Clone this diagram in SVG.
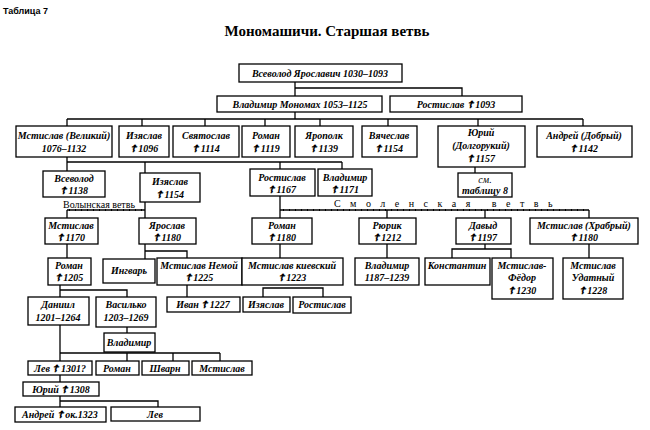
<svg xmlns="http://www.w3.org/2000/svg" width="650" height="430" viewBox="0 0 650 430">
<style>
.b{fill:#fff;stroke:#000;stroke-width:1.3}
text{font-family:"Liberation Serif","DejaVu Serif",serif;font-size:10px;font-style:italic;font-weight:bold;text-anchor:middle;fill:#000}
.c line,.c polyline{stroke:#000;stroke-width:1.3;fill:none}
.t{stroke:#000;stroke-width:3;stroke-dasharray:1 5;fill:none}
.u{font-style:normal;font-weight:normal;font-size:10px}
</style>
<rect width="650" height="430" fill="#fff"/>
<text x="3" y="14" style="text-anchor:start;font-style:normal;font-family:'Liberation Sans',sans-serif;font-size:9px">Таблица 7</text>
<text x="327" y="36" style="font-style:normal;font-size:15px">Мономашичи. Старшая ветвь</text>
<g class="c">
<polyline points="295,82 295,96"/><polyline points="295,88 462,88 462,96"/>
<polyline points="295,112 295,119"/>
<line x1="67" y1="119" x2="583" y2="119"/>
<line x1="67" y1="119" x2="67" y2="126"/><line x1="142" y1="119" x2="142" y2="126"/><line x1="205" y1="119" x2="205" y2="126"/><line x1="265" y1="119" x2="265" y2="126"/><line x1="320" y1="119" x2="320" y2="126"/><line x1="388" y1="119" x2="388" y2="126"/><line x1="478" y1="119" x2="478" y2="126"/><line x1="583" y1="119" x2="583" y2="126"/>
<line x1="67" y1="157" x2="67" y2="171"/><line x1="67" y1="162" x2="342" y2="162"/>
<line x1="145" y1="162" x2="145" y2="173"/><line x1="280" y1="162" x2="280" y2="169"/><line x1="342" y1="162" x2="342" y2="169"/>
<line x1="475" y1="167" x2="475" y2="173"/>
<line x1="67" y1="210" x2="145" y2="210"/><line class="t" x1="69" y1="210" x2="145" y2="210" style="stroke-width:2"/>
<line x1="67" y1="210" x2="67" y2="218"/><line x1="145" y1="202" x2="145" y2="218"/>
<line x1="280" y1="196" x2="280" y2="218"/>
<line x1="280" y1="210" x2="589" y2="210"/><line class="t" x1="283" y1="210" x2="589" y2="210" style="stroke-width:2"/>
<line x1="387" y1="210" x2="387" y2="218"/><line x1="485" y1="210" x2="485" y2="218"/><line x1="589" y1="210" x2="589" y2="218"/>
<line x1="67" y1="244" x2="67" y2="258"/>
<line x1="145" y1="244" x2="145" y2="259"/><polyline points="145,251 187,251 187,258"/>
<line x1="187" y1="285" x2="187" y2="297"/>
<line x1="280" y1="244" x2="280" y2="258"/>
<polyline points="263,297 263,288 323,288 323,297"/>
<line x1="387" y1="244" x2="387" y2="258"/>
<line x1="485" y1="244" x2="485" y2="249"/><polyline points="452,258 452,249 511,249 511,258"/>
<line x1="589" y1="244" x2="589" y2="258"/>
<line x1="60" y1="285" x2="60" y2="297"/><polyline points="60,290 127,290 127,297"/>
<line x1="127" y1="327" x2="127" y2="333"/>
<line x1="60" y1="325" x2="60" y2="361"/><line x1="60" y1="353" x2="220" y2="353"/>
<line x1="127" y1="353" x2="127" y2="361"/><line x1="173" y1="353" x2="173" y2="361"/><line x1="220" y1="353" x2="220" y2="361"/>
<line x1="60" y1="375" x2="60" y2="407"/><polyline points="60,401 158,401 158,407"/>
</g>
<text class="u" x="99" y="208">Волынская ветвь</text>
<text class="u" x="448" y="207" style="letter-spacing:9.5px">Смоленская ветвь</text>
<g id="n1"><rect class="b" x="239" y="64" width="163" height="18"/><text x="320" y="77">Всеволод Ярославич 1030–1093</text></g>
<g id="n2"><rect class="b" x="217" y="96" width="165" height="16"/><text x="300" y="108">Владимир Мономах 1053–1125</text></g>
<g id="n3"><rect class="b" x="390" y="96" width="132" height="16"/><text x="456" y="108">Ростислав ☦ 1093</text></g>
<g id="n4"><rect class="b" x="16" y="126" width="96" height="31"/><text x="64" y="139">Мстислав (Великий)</text><text x="64" y="152">1076–1132</text></g>
<g id="n5"><rect class="b" x="119" y="126" width="50" height="31"/><text x="144" y="139">Изяслав</text><text x="144" y="152">☦ 1096</text></g>
<g id="n6"><rect class="b" x="173" y="126" width="66" height="31"/><text x="206" y="139">Святослав</text><text x="206" y="152">☦ 1114</text></g>
<g id="n7"><rect class="b" x="242" y="126" width="48" height="31"/><text x="266" y="139">Роман</text><text x="266" y="152">☦ 1119</text></g>
<g id="n8"><rect class="b" x="295" y="126" width="58" height="31"/><text x="324" y="139">Ярополк</text><text x="324" y="152">☦ 1139</text></g>
<g id="n9"><rect class="b" x="362" y="126" width="55" height="31"/><text x="389" y="139">Вячеслав</text><text x="389" y="152">☦ 1154</text></g>
<g id="n10"><rect class="b" x="438" y="126" width="87" height="41"/><text x="481" y="136">Юрий</text><text x="481" y="149">(Долгорукий)</text><text x="481" y="162">☦ 1157</text></g>
<g id="n11"><rect class="b" x="537" y="126" width="95" height="31"/><text x="584" y="139">Андрей (Добрый)</text><text x="584" y="152">☦ 1142</text></g>
<g id="n12"><rect class="b" x="43" y="171" width="62" height="26"/><text x="74" y="182">Всеволод</text><text x="74" y="194">☦ 1138</text></g>
<g id="n13"><rect class="b" x="140" y="173" width="60" height="29"/><text x="170" y="185">Изяслав</text><text x="170" y="198">☦ 1154</text></g>
<g id="n14"><rect class="b" x="250" y="169" width="65" height="27"/><text x="282" y="181">Ростислав</text><text x="282" y="193">☦ 1167</text></g>
<g id="n15"><rect class="b" x="318" y="169" width="54" height="27"/><text x="345" y="181">Владимир</text><text x="345" y="193">☦ 1171</text></g>
<g id="n16"><rect class="b" x="458" y="173" width="54" height="24"/><text x="485" y="183" style="font-weight:normal">см.</text><text x="485" y="194">таблицу 8</text></g>
<g id="n17"><rect class="b" x="45" y="218" width="53" height="26"/><text x="71" y="229">Мстислав</text><text x="71" y="241">☦ 1170</text></g>
<g id="n18"><rect class="b" x="139" y="218" width="57" height="26"/><text x="167" y="229">Ярослав</text><text x="167" y="241">☦ 1180</text></g>
<g id="n19"><rect class="b" x="252" y="218" width="60" height="26"/><text x="282" y="229">Роман</text><text x="282" y="241">☦ 1180</text></g>
<g id="n20"><rect class="b" x="359" y="218" width="57" height="26"/><text x="387" y="229">Рюрик</text><text x="387" y="241">☦ 1212</text></g>
<g id="n21"><rect class="b" x="456" y="218" width="55" height="26"/><text x="483" y="229">Давыд</text><text x="483" y="241">☦ 1197</text></g>
<g id="n22"><rect class="b" x="530" y="218" width="108" height="26"/><text x="584" y="229">Мстислав (Храбрый)</text><text x="584" y="241">☦ 1180</text></g>
<g id="n23"><rect class="b" x="48" y="258" width="43" height="27"/><text x="69" y="269">Роман</text><text x="69" y="281">☦ 1205</text></g>
<g id="n24"><rect class="b" x="103" y="259" width="52" height="24"/><text x="129" y="274">Ингварь</text></g>
<g id="n25"><rect class="b" x="157" y="258" width="85" height="27"/><text x="199" y="269">Мстислав Немой</text><text x="199" y="281">☦ 1225</text></g>
<g id="n26"><rect class="b" x="242" y="258" width="101" height="27"/><text x="292" y="269">Мстислав киевский</text><text x="292" y="281">☦ 1223</text></g>
<g id="n27"><rect class="b" x="355" y="258" width="64" height="27"/><text x="387" y="269">Владимир</text><text x="387" y="281">1187–1239</text></g>
<g id="n28"><rect class="b" x="425" y="258" width="65" height="27"/><text x="457" y="269">Константин</text></g>
<g id="n29"><rect class="b" x="492" y="258" width="61" height="41"/><text x="522" y="269">Мстислав-</text><text x="522" y="281">Фёдор</text><text x="522" y="294">☦ 1230</text></g>
<g id="n30"><rect class="b" x="563" y="258" width="60" height="41"/><text x="593" y="269">Мстислав</text><text x="593" y="281">Удатный</text><text x="593" y="294">☦ 1228</text></g>
<g id="n31"><rect class="b" x="167" y="297" width="73" height="15"/><text x="203" y="308">Иван ☦ 1227</text></g>
<g id="n32"><rect class="b" x="243" y="297" width="47" height="15"/><text x="266" y="308">Изяслав</text></g>
<g id="n33"><rect class="b" x="293" y="297" width="58" height="16"/><text x="322" y="308">Ростислав</text></g>
<g id="n34"><rect class="b" x="28" y="297" width="61" height="28"/><text x="58" y="308">Даниил</text><text x="58" y="321">1201–1264</text></g>
<g id="n35"><rect class="b" x="96" y="297" width="60" height="30"/><text x="126" y="308">Василько</text><text x="126" y="321">1203–1269</text></g>
<g id="n36"><rect class="b" x="104" y="333" width="51" height="19"/><text x="129" y="346">Владимир</text></g>
<g id="n37"><rect class="b" x="28" y="361" width="64" height="14"/><text x="60" y="372">Лев ☦ 1301?</text></g>
<g id="n38"><rect class="b" x="96" y="361" width="43" height="14"/><text x="117" y="372">Роман</text></g>
<g id="n39"><rect class="b" x="142" y="361" width="47" height="14"/><text x="165" y="372">Шварн</text></g>
<g id="n40"><rect class="b" x="192" y="361" width="60" height="14"/><text x="222" y="372">Мстислав</text></g>
<g id="n41"><rect class="b" x="23" y="382" width="76" height="14"/><text x="61" y="393">Юрий ☦ 1308</text></g>
<g id="n42"><rect class="b" x="15" y="407" width="91" height="15"/><text x="60" y="418">Андрей ☦ ок.1323</text></g>
<g id="n43"><rect class="b" x="111" y="407" width="89" height="14"/><text x="155" y="418">Лев</text></g>
</svg>
